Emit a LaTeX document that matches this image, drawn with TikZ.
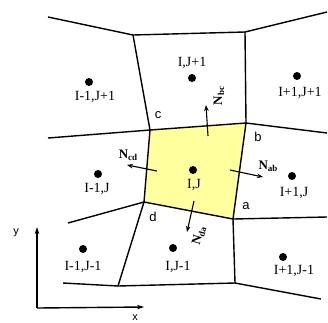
\documentclass[tikz,border=0pt]{standalone}
\usepackage{fontspec}
\setmainfont{Liberation Serif}
\newfontfamily\sansf{Liberation Sans}
\usetikzlibrary{arrows.meta}
\definecolor{cellyellow}{RGB}{255,255,158}
\tikzset{
  edge/.style={line width=1.4pt, line join=round},
  dotnode/.style={circle, fill=black, inner sep=0pt, minimum size=8pt},
  celllabel/.style={font=\fontsize{14}{14}\selectfont, inner sep=0pt},
  vlabel/.style={font=\sansf\fontsize{13}{13}\selectfont, inner sep=0pt},
  normalarrow/.style={line width=1.1pt, -{Stealth[length=6pt,width=4.5pt]}},
  nlabel/.style={font=\bfseries\fontsize{13}{13}\selectfont, inner sep=0pt},
  axis/.style={line width=1.4pt, -{Stealth[length=7pt,width=4.5pt]}}
}
\newcommand{\Nsub}[1]{N\raisebox{-2pt}{\fontsize{9}{9}\selectfont #1}}
\begin{document}
\begin{tikzpicture}[x=1pt,y=-1pt]
\useasboundingbox (0,0) rectangle (328,322);
% vertices
\coordinate (c) at (150,130);
\coordinate (b) at (246,123);
\coordinate (a) at (233,219);
\coordinate (d) at (144,202);
\coordinate (tl) at (48,17);
\coordinate (tm) at (133,35);
\coordinate (tr) at (245,32);
\coordinate (trr) at (327,12);
\coordinate (lc) at (48,138);
\coordinate (ld) at (68,223);
\coordinate (rb) at (327,133);
\coordinate (ra) at (327,217);
\coordinate (bl) at (63,283);
\coordinate (bm) at (118,286);
\coordinate (br) at (235,283);
\coordinate (brr) at (321,299);
% central cell
\fill[cellyellow] (a) -- (b) -- (c) -- (d) -- cycle;
\draw[edge] (a) -- (b) -- (c) -- (d) -- cycle;
% other edges
\draw[edge] (tl) -- (tm) -- (tr) -- (trr);
\draw[edge] (tm) -- (c);
\draw[edge] (tr) -- (b) -- (rb);
\draw[edge] (lc) -- (c);
\draw[edge] (ld) -- (d) -- (bm);
\draw[edge] (bl) -- (bm) -- (br) -- (brr);
\draw[edge] (a) -- (br);
\draw[edge] (a) -- (ra);
% cell centres
\node[dotnode] (p1) at (89,82) {};
\node[dotnode] (p2) at (192,78) {};
\node[dotnode] (p3) at (297,76) {};
\node[dotnode] (p4) at (98,174) {};
\node[dotnode] (p5) at (193,170) {};
\node[dotnode] (p6) at (292,176) {};
\node[dotnode] (p7) at (83,249) {};
\node[dotnode] (p8) at (173,248) {};
\node[dotnode] (p9) at (283,257) {};
\node[celllabel] (l1) at (95,97) {I-1,J+1};
\node[celllabel] (l2) at (192,63) {I,J+1};
\node[celllabel] (l3) at (300,93) {I+1,J+1};
\node[celllabel] (l4) at (97,189) {I-1,J};
\node[celllabel] (l5) at (194,185) {I,J};
\node[celllabel] (l6) at (294,193) {I+1,J};
\node[celllabel] (l7) at (83,267) {I-1,J-1};
\node[celllabel] (l8) at (178,267) {I,J-1};
\node[celllabel] (l9) at (294,271) {I+1,J-1};
% vertex labels
\node[vlabel] (vc) at (158,115) {c};
\node[vlabel] (vb) at (258,137) {b};
\node[vlabel] (va) at (246,206) {a};
\node[vlabel] (vd) at (153,217) {d};
% normals
\coordinate (nbc0) at (208,136);
\coordinate (nbc1) at (206,105);
\coordinate (ncd0) at (157,171);
\coordinate (ncd1) at (127,165);
\coordinate (nab0) at (230,170);
\coordinate (nab1) at (263,177);
\coordinate (nda0) at (194,201);
\coordinate (nda1) at (187,232);
\draw[normalarrow] (nbc0) -- (nbc1);
\draw[normalarrow] (ncd0) -- (ncd1);
\draw[normalarrow] (nab0) -- (nab1);
\draw[normalarrow] (nda0) -- (nda1);
\node[nlabel, rotate=90] (Nbc) at (219,96) {\Nsub{bc}};
\node[nlabel] (Ncd) at (128,155) {\Nsub{cd}};
\node[nlabel] (Nab) at (268,166) {\Nsub{ab}};
\node[nlabel, rotate=75] (Nda) at (199,236) {\Nsub{da}};
% axes
\coordinate (o) at (37,308);
\coordinate (yend) at (37,227);
\coordinate (xend) at (144,307);
\draw[axis] (o) -- (yend);
\draw[axis] (o) -- (xend);
\node[vlabel, font=\sansf\fontsize{11}{11}\selectfont] (ylab) at (16,233) {y};
\node[vlabel, font=\sansf\fontsize{11}{11}\selectfont] (xlab) at (135,318) {x};
\end{tikzpicture}
\end{document}
